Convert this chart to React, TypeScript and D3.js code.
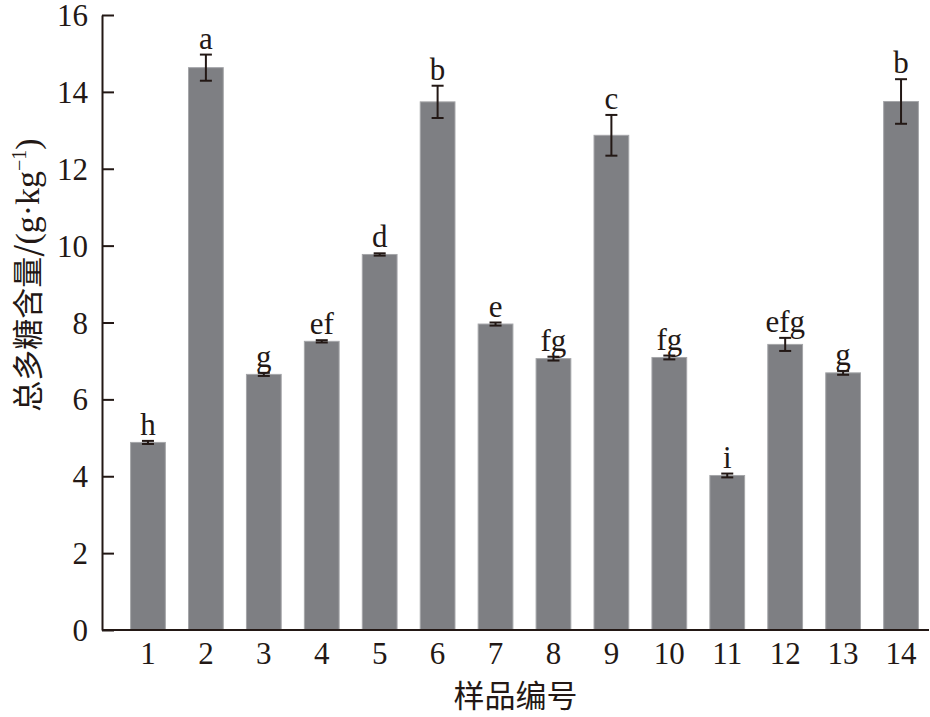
import React, { useEffect, useRef } from 'react';
import * as d3 from 'd3';

const samples = ['1', '2', '3', '4', '5', '6', '7', '8', '9', '10', '11', '12', '13', '14'];
const means = [4.88, 14.63, 6.65, 7.51, 9.77, 13.74, 7.96, 7.06, 12.87, 7.09, 4.02, 7.43, 6.69, 13.75];
const errors = [0.04, 0.34, 0.04, 0.03, 0.03, 0.42, 0.04, 0.05, 0.53, 0.05, 0.05, 0.17, 0.05, 0.58];
const letters = ['h', 'a', 'g', 'ef', 'd', 'b', 'e', 'fg', 'c', 'fg', 'i', 'efg', 'g', 'b'];
const yTicks = [0, 2, 4, 6, 8, 10, 12, 14, 16];

const ink = '#231815';
const serif = '"Liberation Serif", "Times New Roman", serif';
const cjk = '"Noto Sans CJK SC", "Liberation Serif", sans-serif';

const App: React.FC = () => {
  const yAxisRef = useRef<SVGGElement>(null);

  const width = 930;
  const height = 717;
  const axisLeft = 102;
  const axisRight = 929;

  const x = d3.scaleBand<string>().domain(samples).range([119, 930]).paddingInner(0.4).paddingOuter(0.2);
  const y = d3.scaleLinear().domain([0, 16]).range([630, 15]);

  useEffect(() => {
    if (!yAxisRef.current) return;
    const g = d3.select(yAxisRef.current);
    g.selectAll('*').remove();
    g.call(d3.axisLeft(y).tickValues(yTicks).tickSize(-12).tickSizeOuter(0).tickPadding(14));
    g.select('.domain').attr('stroke', ink).attr('stroke-width', 2);
    g.selectAll('.tick line').attr('stroke', ink).attr('stroke-width', 2);
    g.selectAll('.tick text')
      .attr('fill', ink)
      .attr('font-family', serif)
      .attr('font-size', 31)
      .attr('dy', '0.34em');
  }, []);

  return (
    <svg width={width} height={height} style={{ position: 'absolute', left: 0, top: 0 }}>
      <rect width={width} height={height} fill="#fff" />

      {/* bars */}
      {samples.map((s, i) => (
        <rect
          key={s}
          x={x(s)}
          y={y(means[i])}
          width={x.bandwidth()}
          height={y(0) - y(means[i])}
          fill="#7e7f83"
          stroke="#a5a6a9"
          strokeWidth={1}
        />
      ))}

      {/* error bars */}
      {samples.map((s, i) => {
        const cx = (x(s) as number) + x.bandwidth() / 2;
        const top = y(means[i] + errors[i]);
        const bot = y(means[i] - errors[i]);
        return (
          <g key={s} stroke={ink} strokeWidth={2}>
            <line x1={cx} x2={cx} y1={top} y2={bot} />
            <line x1={cx - 6} x2={cx + 6} y1={top} y2={top} />
            <line x1={cx - 6} x2={cx + 6} y1={bot} y2={bot} />
          </g>
        );
      })}

      {/* significance letters */}
      {samples.map((s, i) => (
        <text
          key={s}
          x={(x(s) as number) + x.bandwidth() / 2}
          y={y(means[i] + errors[i]) - 6}
          textAnchor="middle"
          fontFamily={serif}
          fontSize={31}
          fill={ink}
        >
          {letters[i]}
        </text>
      ))}

      {/* y axis */}
      <g ref={yAxisRef} transform={`translate(${axisLeft},0)`} />

      {/* x axis */}
      <line x1={axisLeft} x2={axisRight} y1={y(0)} y2={y(0)} stroke={ink} strokeWidth={2} />
      {samples.map((s) => (
        <text
          key={s}
          x={(x(s) as number) + x.bandwidth() / 2}
          y={664}
          textAnchor="middle"
          fontFamily={serif}
          fontSize={31}
          fill={ink}
        >
          {s}
        </text>
      ))}

      {/* axis titles */}
      <text
        x={(axisLeft + axisRight) / 2}
        y={707}
        textAnchor="middle"
        fontFamily={cjk}
        fontSize={31}
        fill={ink}
      >
        样品编号
      </text>
      <text
        transform={`translate(39,${275}) rotate(-90)`}
        textAnchor="middle"
        fontFamily={cjk}
        fontSize={31}
        fill={ink}
      >
        总多糖含量/
        <tspan fontFamily={serif} fontSize={34}>(g·kg</tspan>
        <tspan fontFamily={serif} fontSize={20} dy={-13}>−1</tspan>
        <tspan fontFamily={serif} fontSize={34} dy={13}>)</tspan>
      </text>
    </svg>
  );
};

export default App;
